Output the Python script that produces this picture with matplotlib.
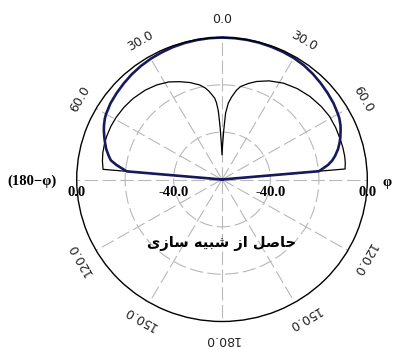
import numpy as np
import matplotlib.pyplot as plt
from matplotlib.transforms import offset_copy

# angles in degrees, clockwise from top (negative = left half, 180-phi side)
thick_theta = [-90, -85, -82, -80, -78, -75, -72, -70, -67, -65, -62, -60, -55, -50,
               -45, -40, -35, -30, -25, -20, -15, -10, -5, 0,
               5, 10, 15, 20, 25, 30, 35, 40, 45, 50, 55, 60, 62, 65, 67, 70,
               72, 75, 78, 80, 82, 85, 90]
thick_db = [-60, -20.5, -16.0, -13.4, -12.2, -10.5, -9.2, -8.3, -7.0, -6.2, -5.2, -4.7,
            -3.8, -3.2, -2.6, -2.0, -1.5, -1.1, -0.8, -0.5, -0.3, -0.15, -0.05, 0.0,
            -0.05, -0.1, -0.2, -0.35, -0.5, -0.7, -1.1, -1.7, -2.4, -3.1, -3.8, -4.7,
            -5.1, -6.0, -6.8, -8.0, -8.9, -10.4, -12.3, -13.8, -15.8, -19.8, -60]

thin_theta = [-90, -85, -81, -77, -73, -69, -64, -59, -53, -47, -40, -34, -28, -23,
              -18, -13, -10, -8, -5, -4, -3, -2, -1, 0,
              1, 2, 3, 4.6, 6.5, 9, 11, 15, 19, 25, 32, 39, 46, 53, 59, 65,
              71, 75, 79, 82, 85, 90]
thin_db = [-60, -10.7, -10.0, -9.5, -9.2, -9.0, -8.9, -9.0, -9.3, -9.8, -10.7, -11.8,
           -13.3, -15.1, -16.9, -19.0, -20.8, -22.5, -25.5, -27.6, -31.0, -38.0, -45.0,
           -49.6, -45.0, -39.0, -32.0, -27.6, -24.9, -21.8, -20.0, -18.0, -16.2, -14.0,
           -12.0, -10.6, -9.5, -8.7, -8.2, -8.2, -8.3, -8.3, -8.4, -8.6, -9.0, -60]

ang_ticks = [0, 30, 60, 120, 150, 180, -30, -60, -120, -150]
ang_labels = ['0.0', '30.0', '60.0', '120.0', '150.0', '180.0',
              '30.0', '60.0', '120.0', '150.0']
r_ticks = [-40, -20]
r_labels = [(0, '0.0'), (-40, '-40.0')]
caption = '\ufeef\ufeaf\ufe8e\ufeb3 \ufeea\ufef4\ufe92\ufeb7 \ufeaf\ufe8d \ufede\ufebb\ufe8e\ufea3'  # حاصل از شبیه سازی

fig = plt.figure(figsize=(3.95, 3.47), dpi=100)
ax = fig.add_axes([0.1942, 0.0735, 0.7357, 0.8184], projection='polar')
ax.set_aspect('auto')
ax.set_theta_zero_location('N')
ax.set_theta_direction(-1)
ax.set_ylim(-60, 0)

ax.set_thetagrids(range(0, 360, 30), labels=[])
ax.set_rgrids(r_ticks, labels=[])
ax.grid(True, color='#b8b8b8', lw=0.8, ls=(0, (12, 4)))
ax.spines['polar'].set_color('black')
ax.spines['polar'].set_linewidth(1.0)

ax.plot(np.deg2rad(thin_theta), thin_db, color='black', lw=0.9, clip_on=False)
ax.plot(np.deg2rad(thick_theta), thick_db, color='#161a5c', lw=1.9, clip_on=False)

for a, s in zip(ang_ticks, ang_labels):
    ax.text(np.deg2rad(a), 7.5, s, rotation=-a, rotation_mode='anchor',
            ha='center', va='center', fontsize=9, color='#222222', clip_on=False)

lab_tr = offset_copy(ax.transData, fig=fig, x=0, y=-13, units='dots')
for r, s in r_labels:
    for a in (90, -90):
        ax.text(np.deg2rad(a), r, s, transform=lab_tr, ha='center', va='center',
                fontsize=10.5, fontweight='bold', family='Liberation Serif', clip_on=False)

ax.text(np.deg2rad(90), 0, '\u03c6', transform=offset_copy(ax.transData, fig=fig, x=20, y=-3, units='dots'),
        ha='center', va='center', fontsize=10.5, fontweight='bold', family='Liberation Serif', clip_on=False)
ax.text(np.deg2rad(-90), 0, '(180\u2212\u03c6)', transform=offset_copy(ax.transData, fig=fig, x=-45, y=-2, units='dots'),
        ha='center', va='center', fontsize=10.5, fontweight='bold', family='Liberation Serif', clip_on=False)

ax.text(np.pi, -33, caption, ha='center', va='center', fontsize=10.5, fontweight='bold',
        family='DejaVu Sans', clip_on=False)

fig.savefig('out.png', dpi=100)
